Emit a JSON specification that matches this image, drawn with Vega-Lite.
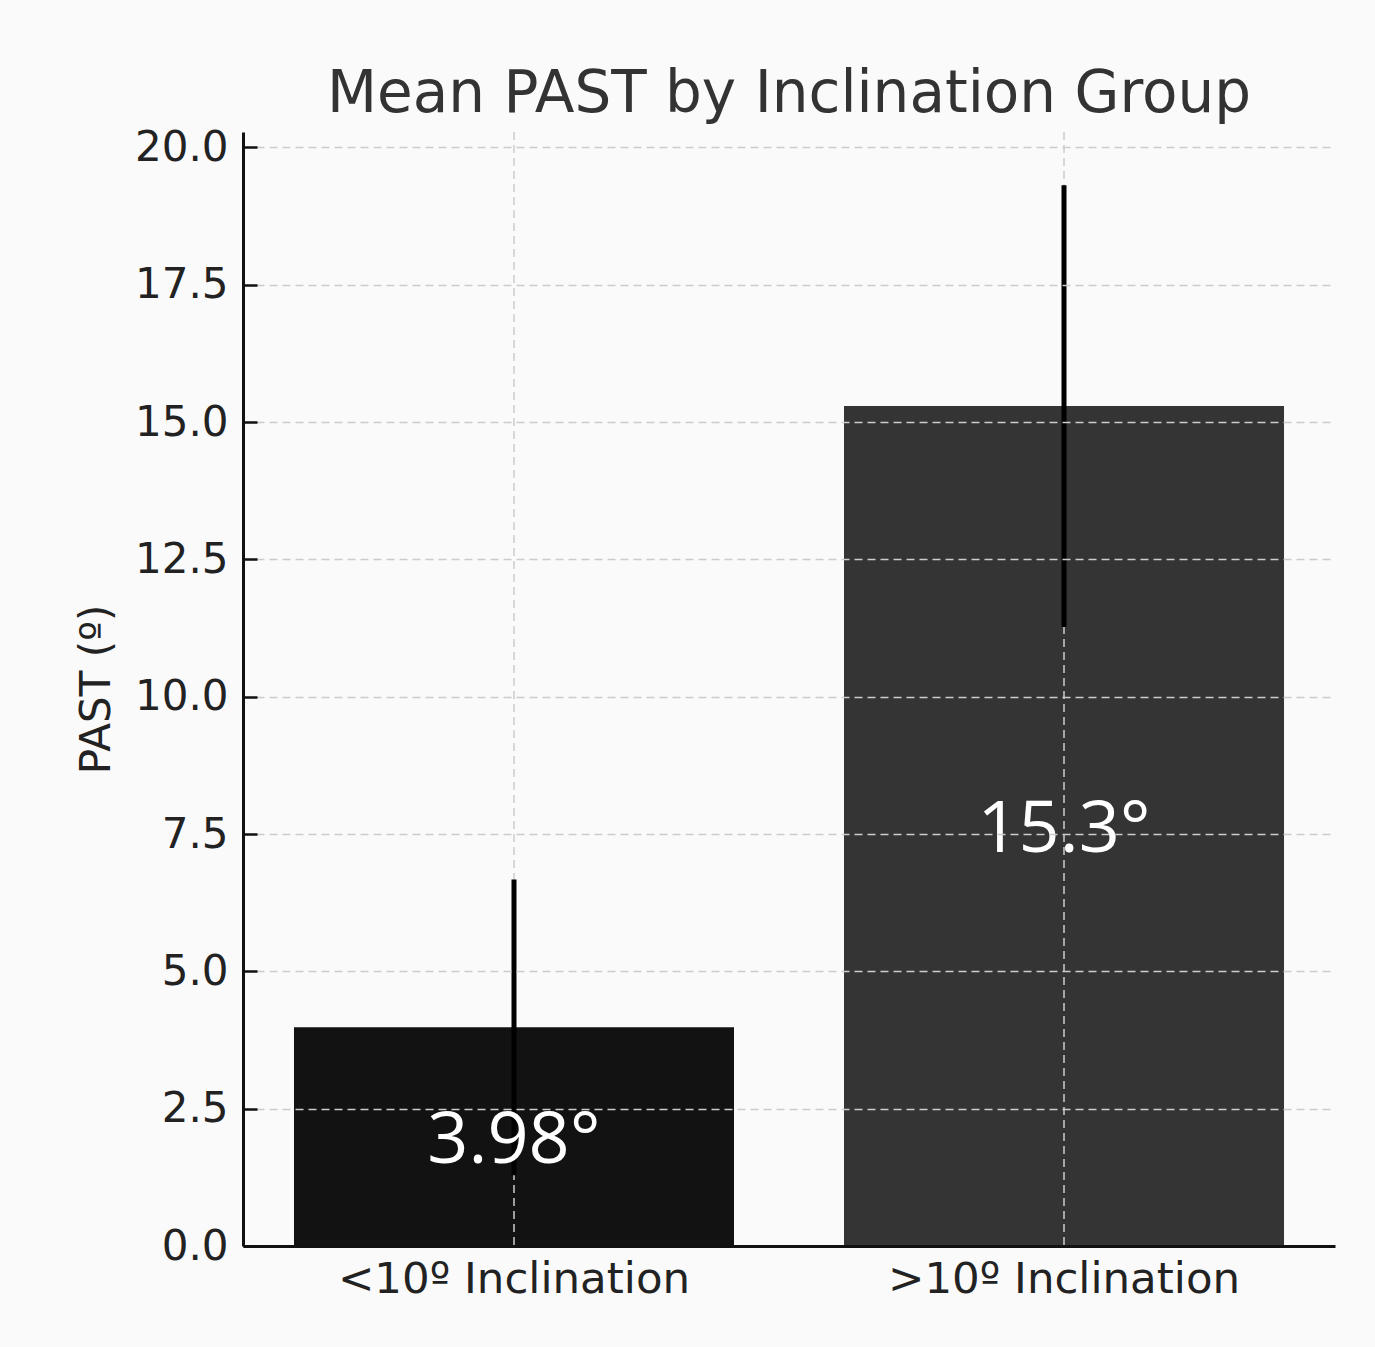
{
  "$schema": "https://vega.github.io/schema/vega-lite/v6.json",
  "autosize": {"type": "none"},
  "width": 1092,
  "height": 1114,
  "padding": {"left": 243, "top": 132, "right": 40, "bottom": 101},
  "background": "#fafafa",
  "config": {
    "view": {"stroke": null},
    "font": "DejaVu Sans"
  },
  "title": {
    "text": "Mean PAST by Inclination Group",
    "font": "DejaVu Sans",
    "fontSize": 58,
    "fontWeight": "normal",
    "color": "#333333",
    "anchor": "middle",
    "offset": 2
  },
  "data": {
    "values": [
      {"group": "<10º Inclination", "mean": 3.98, "lo": 1.29, "hi": 6.67, "label": "3.98°"},
      {"group": ">10º Inclination", "mean": 15.29, "lo": 11.27, "hi": 19.31, "label": "15.3°"}
    ]
  },
  "transform": [{"calculate": "datum.mean / 2", "as": "mid"}],
  "encoding": {
    "x": {
      "field": "group",
      "type": "nominal",
      "sort": null,
      "scale": {"paddingInner": 0.2, "paddingOuter": 0.0927},
      "axis": {
        "title": null,
        "labelAngle": 0,
        "labelLimit": 0,
        "labelFont": "DejaVu Sans",
        "labelFontSize": 43.5,
        "labelColor": "#222222",
        "labelPadding": 12,
        "ticks": false,
        "grid": false,
        "domainColor": "#111111",
        "domainWidth": 3,
        "zindex": 1
      }
    }
  },
  "layer": [
    {
      "mark": {"type": "bar"},
      "encoding": {
        "y": {
          "field": "mean",
          "type": "quantitative",
          "scale": {"domain": [0, 20.28], "nice": false, "zero": true},
          "axis": {
            "title": "PAST (º)",
            "titleFont": "DejaVu Sans",
            "titleFontSize": 42,
            "titleFontWeight": "normal",
            "titleColor": "#222222",
            "titlePadding": 16,
            "values": [0, 2.5, 5, 7.5, 10, 12.5, 15, 17.5, 20],
            "format": ".1f",
            "labelFont": "DejaVu Sans",
            "labelFontSize": 42,
            "labelColor": "#222222",
            "labelPadding": 29,
            "tickSize": -14,
            "tickColor": "#111111",
            "tickWidth": 2.5,
            "domainColor": "#111111",
            "domainWidth": 3,
            "grid": true,
            "gridColor": "#cccccc",
            "gridWidth": 1.5,
            "gridDash": [8, 5],
            "zindex": 1
          }
        },
        "color": {
          "field": "group",
          "type": "nominal",
          "sort": null,
          "scale": {"range": ["#121212", "#343434"]},
          "legend": null
        }
      }
    },
    {
      "mark": {"type": "rule", "color": "#cccccc", "strokeWidth": 1.5, "strokeDash": [8, 5]},
      "encoding": {}
    },
    {
      "mark": {"type": "rule", "color": "#000000", "strokeWidth": 5},
      "encoding": {
        "y": {"field": "lo", "type": "quantitative"},
        "y2": {"field": "hi"}
      }
    },
    {
      "mark": {"type": "text", "font": "Open Sans", "fontSize": 72, "color": "#ffffff", "baseline": "middle", "align": "center", "dy": 4},
      "encoding": {
        "y": {"field": "mid", "type": "quantitative"},
        "text": {"field": "label"}
      }
    }
  ]
}
